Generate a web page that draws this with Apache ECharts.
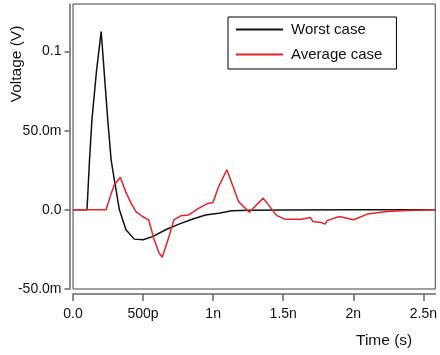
<!DOCTYPE html>
<html>
<head>
<meta charset="utf-8">
<script src="https://cdn.jsdelivr.net/npm/echarts@6/dist/echarts.min.js"></script>
<style>
html,body{margin:0;padding:0;background:#fff;}
#c{width:440px;height:355px;}
</style>
</head>
<body>
<div id="c"></div>
<script>
// Time in ns, voltage in mV
var worstT = [0, 0.1, 0.118, 0.135, 0.168, 0.201, 0.248, 0.272, 0.295, 0.331, 0.378, 0.437, 0.5, 0.567, 0.661, 0.756, 0.85, 0.945, 1.039, 1.133, 1.25, 1.5, 2.0, 2.585];
var worstV = [0, 0, 31.6, 56.8, 88, 112.6, 56.8, 31.6, 18.9, 0, -12.6, -18.5, -18.9, -16.9, -12.6, -9.0, -5.9, -3.3, -2.1, -0.6, -0.2, -0.1, 0, 0];

var avgT = [0, 0.236, 0.274, 0.295, 0.338, 0.378, 0.414, 0.449, 0.496, 0.540, 0.579, 0.614, 0.637, 0.685, 0.72, 0.768, 0.827, 0.898, 0.956, 0.999, 1.039, 1.098, 1.181, 1.258, 1.357, 1.452, 1.511, 1.629, 1.695, 1.712, 1.771, 1.799, 1.813, 1.901, 2.002, 2.101, 2.243, 2.385, 2.585];
var avgV = [0, 0, 10.7, 15.8, 20.6, 11.0, 4.2, -1.1, -4.2, -6.3, -18.9, -27.3, -29.9, -16.9, -6.3, -3.8, -3.2, 1.1, 3.8, 4.6, 14.7, 25.3, 5.2, -1.5, 7.4, -3.5, -5.9, -5.9, -4.9, -7.4, -8.0, -9.0, -6.8, -4.2, -6.3, -2.7, -1.1, -0.4, 0];

var seriesNames = ['Worst case', 'Average case'];
var xTickValues = [0, 0.5, 1, 1.5, 2, 2.5];
var xTickLabels = ['0.0', '500p', '1n', '1.5n', '2n', '2.5n'];
var yTickValues = [-50, 0, 50, 100];
var yTickLabels = ['-50.0m', '0.0', '50.0m', '0.1'];
var xTitle = 'Time (s)';
var yTitle = 'Voltage (V)';

function zip(a, b) { return a.map(function (v, i) { return [v, b[i]]; }); }

var FONT = 'Liberation Sans, Arial, sans-serif';
var BLACK = '#111';
var RED = '#e8222b';
var chart = echarts.init(document.getElementById('c'), null, {renderer: 'canvas'});
chart.setOption({
  animation: false,
  backgroundColor: '#fff',
  grid: {left: 73, top: 4, width: 365, height: 285, show: true, borderColor: '#444', borderWidth: 1, backgroundColor: 'transparent'},
  legend: {
    left: 228, top: 17, orient: 'vertical',
    borderColor: '#000', borderWidth: 1,
    padding: [5, 14, 7, 8], itemGap: 10, itemWidth: 47, itemHeight: 2,
    icon: 'rect',
    textStyle: {fontFamily: FONT, fontSize: 15, color: BLACK, padding: [0, 0, 0, 3]},
    data: seriesNames
  },
  xAxis: {
    type: 'value', min: 0, max: 2.585, interval: 0.5, offset: 5,
    axisLine: {show: true, onZero: false, lineStyle: {color: '#666', width: 1.5}},
    axisTick: {show: true, length: 7, customValues: xTickValues, lineStyle: {color: '#666', width: 1.5}},
    axisLabel: {customValues: xTickValues, margin: 13, fontFamily: FONT, fontSize: 14, color: BLACK,
      formatter: function (v) { var i = xTickValues.indexOf(v); return i >= 0 ? xTickLabels[i] : ''; }},
    splitLine: {show: false}
  },
  yAxis: {
    type: 'value', min: -50, max: 130, interval: 50, offset: 3.5,
    axisLine: {show: true, onZero: false, lineStyle: {color: '#666', width: 1.5}},
    axisTick: {show: true, length: 5, customValues: yTickValues, lineStyle: {color: '#666', width: 1.5}},
    axisLabel: {customValues: yTickValues, margin: 8, fontFamily: FONT, fontSize: 14, color: BLACK,
      formatter: function (v) { var i = yTickValues.indexOf(v); return i >= 0 ? yTickLabels[i] : ''; }},
    splitLine: {show: false}
  },
  graphic: [
    {type: 'text', left: 356, top: 333, style: {text: xTitle, fontFamily: FONT, fontSize: 15.5, fill: BLACK}},
    {type: 'text', x: 17, y: 64, rotation: Math.PI / 2,
      style: {text: yTitle, fontFamily: FONT, fontSize: 15.5, fill: BLACK, align: 'center', verticalAlign: 'middle'}}
  ],
  series: [
    {name: seriesNames[0], type: 'line', data: zip(worstT, worstV), symbol: 'none', lineStyle: {color: BLACK, width: 1.5}, itemStyle: {color: BLACK}},
    {name: seriesNames[1], type: 'line', data: zip(avgT, avgV), symbol: 'none', lineStyle: {color: RED, width: 1.5}, itemStyle: {color: RED}}
  ]
});
</script>
</body>
</html>
